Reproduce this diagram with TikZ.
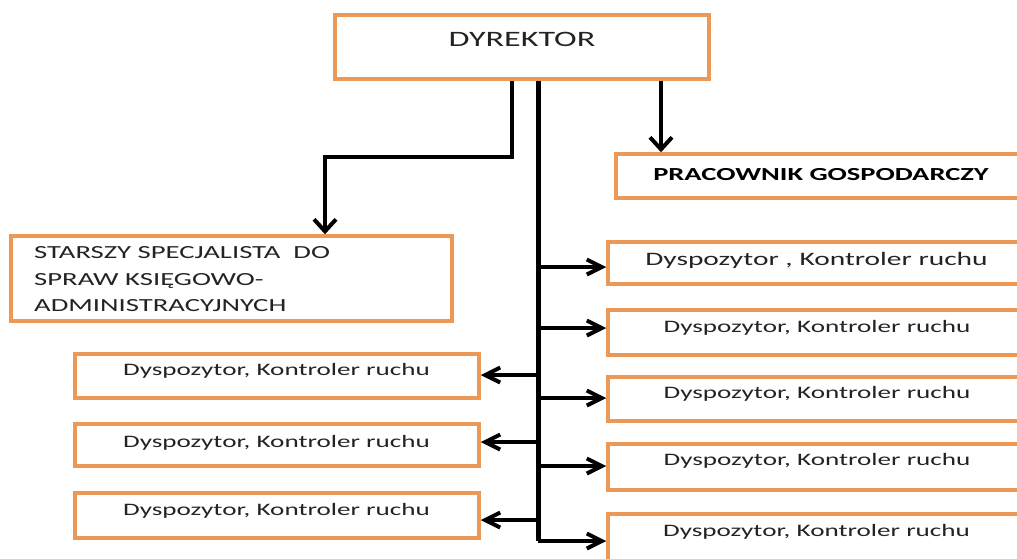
\documentclass[tikz,border=0pt]{standalone}
\usepackage{fontspec}
\setmainfont{Carlito}
\newfontfamily\cf{Carlito}[FakeStretch=1.55]
\usetikzlibrary{arrows.meta}
\definecolor{boxor}{RGB}{236,152,86}
\definecolor{txt}{RGB}{35,35,35}
\begin{document}
\begin{tikzpicture}[x=1pt,y=-1pt,
  box/.style={draw=boxor, line width=3.5pt, fill=white, rectangle, inner sep=0pt},
  lbl/.style={text=txt, inner sep=0pt},
  conn/.style={line width=4pt, black},
  harr/.style={conn, -{Straight Barb[length=15pt,width=15pt]}},
  varr/.style={conn, -{Straight Barb[length=12pt,width=22pt]}},
  dtext/.style={lbl, anchor=base, font=\cf\fontsize{17.5}{21}\selectfont}
]
\useasboundingbox (0,0) rectangle (1017,558);
\fill[white] (0,0) rectangle (1017,558);
\begin{scope}
\clip (0,0) rectangle (1017,558);
% boxes
\node[box, minimum width=374pt, minimum height=64pt] (dyr) at (522,47) {};
\node[box, minimum width=414pt, minimum height=44pt] (prac) at (823,176) {};
\node[box, minimum width=441pt, minimum height=85pt] (star) at (231.5,278.5) {};
\node[box, minimum width=404pt, minimum height=44pt] (L1) at (277,376) {};
\node[box, minimum width=404pt, minimum height=42pt] (L2) at (277,445) {};
\node[box, minimum width=404pt, minimum height=45pt] (L3) at (277,515.5) {};
\node[box, minimum width=422pt, minimum height=42pt] (R1) at (819,263) {};
\node[box, minimum width=422pt, minimum height=45pt] (R2) at (819,332.5) {};
\node[box, minimum width=422pt, minimum height=44pt] (R3) at (819,399) {};
\node[box, minimum width=422pt, minimum height=46pt] (R4) at (819,467) {};
\node[box, minimum width=422pt, minimum height=49pt] (R5) at (819,538.5) {};
% texts
\node[lbl, anchor=base, font=\cf\fontsize{22}{26}\selectfont] (tdyr) at (522,46) {DYREKTOR};
\node[lbl, anchor=base, text=black, font=\cf\bfseries\fontsize{18.4}{22}\selectfont] (tprac) at (821,180) {PRACOWNIK GOSPODARCZY};
\node[lbl, anchor=base west, font=\cf\fontsize{18.5}{22}\selectfont] (ts1) at (34,258) {STARSZY SPECJALISTA\ \ DO};
\node[lbl, anchor=base west, font=\cf\fontsize{18.5}{22}\selectfont] (ts2) at (34,285) {SPRAW KSIĘGOWO-};
\node[lbl, anchor=base west, font=\cf\fontsize{18.5}{22}\selectfont] (ts3) at (34,311) {ADMINISTRACYJNYCH};
\node[dtext] (tl1) at (276.5,375) {Dyspozytor, Kontroler ruchu};
\node[dtext] (tl2) at (276.5,447) {Dyspozytor, Kontroler ruchu};
\node[dtext] (tl3) at (276.5,515) {Dyspozytor, Kontroler ruchu};
\node[lbl, anchor=base, font=\cf\fontsize{19}{23}\selectfont] (tr1) at (816.5,265) {Dyspozytor , Kontroler ruchu};
\node[dtext] (tr2) at (817,332) {Dyspozytor, Kontroler ruchu};
\node[dtext] (tr3) at (817,398) {Dyspozytor, Kontroler ruchu};
\node[dtext] (tr4) at (817,465) {Dyspozytor, Kontroler ruchu};
\node[dtext] (tr5) at (816.5,536) {Dyspozytor, Kontroler ruchu};
% connectors
\coordinate (tb) at (538,541);
\draw[conn, line width=5pt] (dyr.south -| tb) -- (tb);
\coordinate (k1) at (512,157);
\coordinate (k2) at (325,157);
\draw[varr] (dyr.south -| k1) -- (k1) -- (k2) -- (star.north -| k2);
\coordinate (p1) at (661,100);
\draw[varr] (dyr.south -| p1) -- (prac.north -| p1);
\foreach \n/\y in {R1/267,R2/328,R3/398,R4/466,R5/541}{
  \coordinate (a\n) at (538,\y);
  \draw[harr] (a\n) -- (a\n -| \n.west);
}
\foreach \n/\y in {L1/375,L2/442,L3/520}{
  \coordinate (b\n) at (538,\y);
  \draw[harr] (b\n) -- (b\n -| \n.east);
}
\end{scope}
\end{tikzpicture}
\end{document}
